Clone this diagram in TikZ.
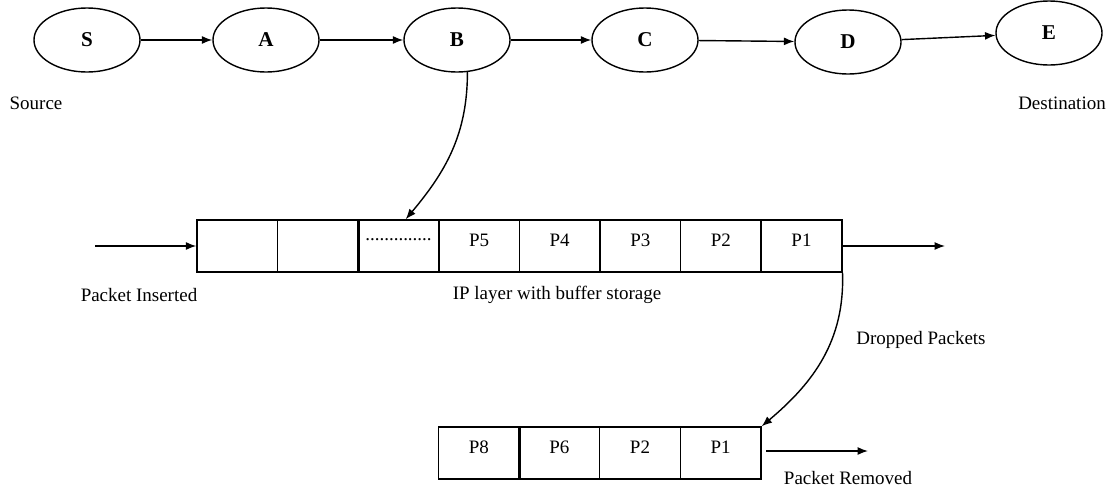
\documentclass[tikz,border=0pt]{standalone}
\usepackage{fontspec}
\setmainfont{Liberation Serif}
\usetikzlibrary{shapes.geometric,arrows.meta}

\begin{document}
\begin{tikzpicture}[x=0.025cm,y=-0.025cm,>={Latex[length=0.26cm,width=0.2cm]},line width=1pt]
			\tikzstyle{station}=[ellipse,draw,minimum width=2.65cm,minimum height=1.6cm,inner sep=0pt,font=\bfseries\fontsize{15}{18}\selectfont]
			\tikzstyle{cell}=[draw,minimum width=2.015cm,minimum height=1.3cm,inner sep=0pt,text depth=0.3cm,font=\fontsize{13.5}{16}\selectfont]
			\tikzstyle{caption}=[font=\fontsize{13.5}{16}\selectfont,inner sep=0pt]
			\useasboundingbox (0,0) rectangle (1112,488);
			% nodes on the route
			\foreach \name/\x/\y in {S/87/40, A/266/40, B/457/40, C/645/40, D/848/42, E/1049/33}
				\node[station] (\name) at (\x,\y) {\name};
			\foreach \from/\to in {S/A, A/B, B/C, C/D, D/E}
				\draw[->] (\from) -- (\to);
			\node[caption] (src) at (36,103) {Source};
			\node[caption] (dst) at (1062,103) {Destination};
			% buffer of the IP layer
			\foreach \i/\txt in {1/{}, 2/{}, 3/{..............}, 4/P5, 5/P4, 6/P3, 7/P2, 8/P1}
				\node[cell] (b\i) at (237.3+80.6*\i-80.6,246) {\txt};
			\draw[line width=2pt] (b2.north east) -- (b2.south east);
			\coordinate (in) at (95,246);
			\coordinate (out) at (945,246);
			\draw[->] (in) -- (b1.west);
			\draw[->] (b8.east) -- (out);
			\node[caption] (ins) at (139,295) {Packet Inserted};
			\node[caption] (ipl) at (557,295) {IP layer with buffer storage};
			\draw[->] (B.-72) to[out=-90,in=50] ([xshift=0.18cm]b3.north);
			% dropped packets
			\foreach \i/\txt in {1/P8, 2/P6, 3/P2, 4/P1}
				\node[cell] (q\i) at (478.8+80.6*\i-80.6,453) {\txt};
			\draw[line width=2pt] (q1.north east) -- (q1.south east);
			\coordinate (rem) at (868,451);
			\draw[->] ([xshift=0.12cm]q4.east |- rem) -- (rem);
			\draw[->] (b8.south east) to[out=-88,in=40] (q4.north east);
			\node[caption] (drp) at (921,340) {Dropped Packets};
			\node[caption] (rmv) at (848,478) {Packet Removed};
		\end{tikzpicture}
\end{document}
